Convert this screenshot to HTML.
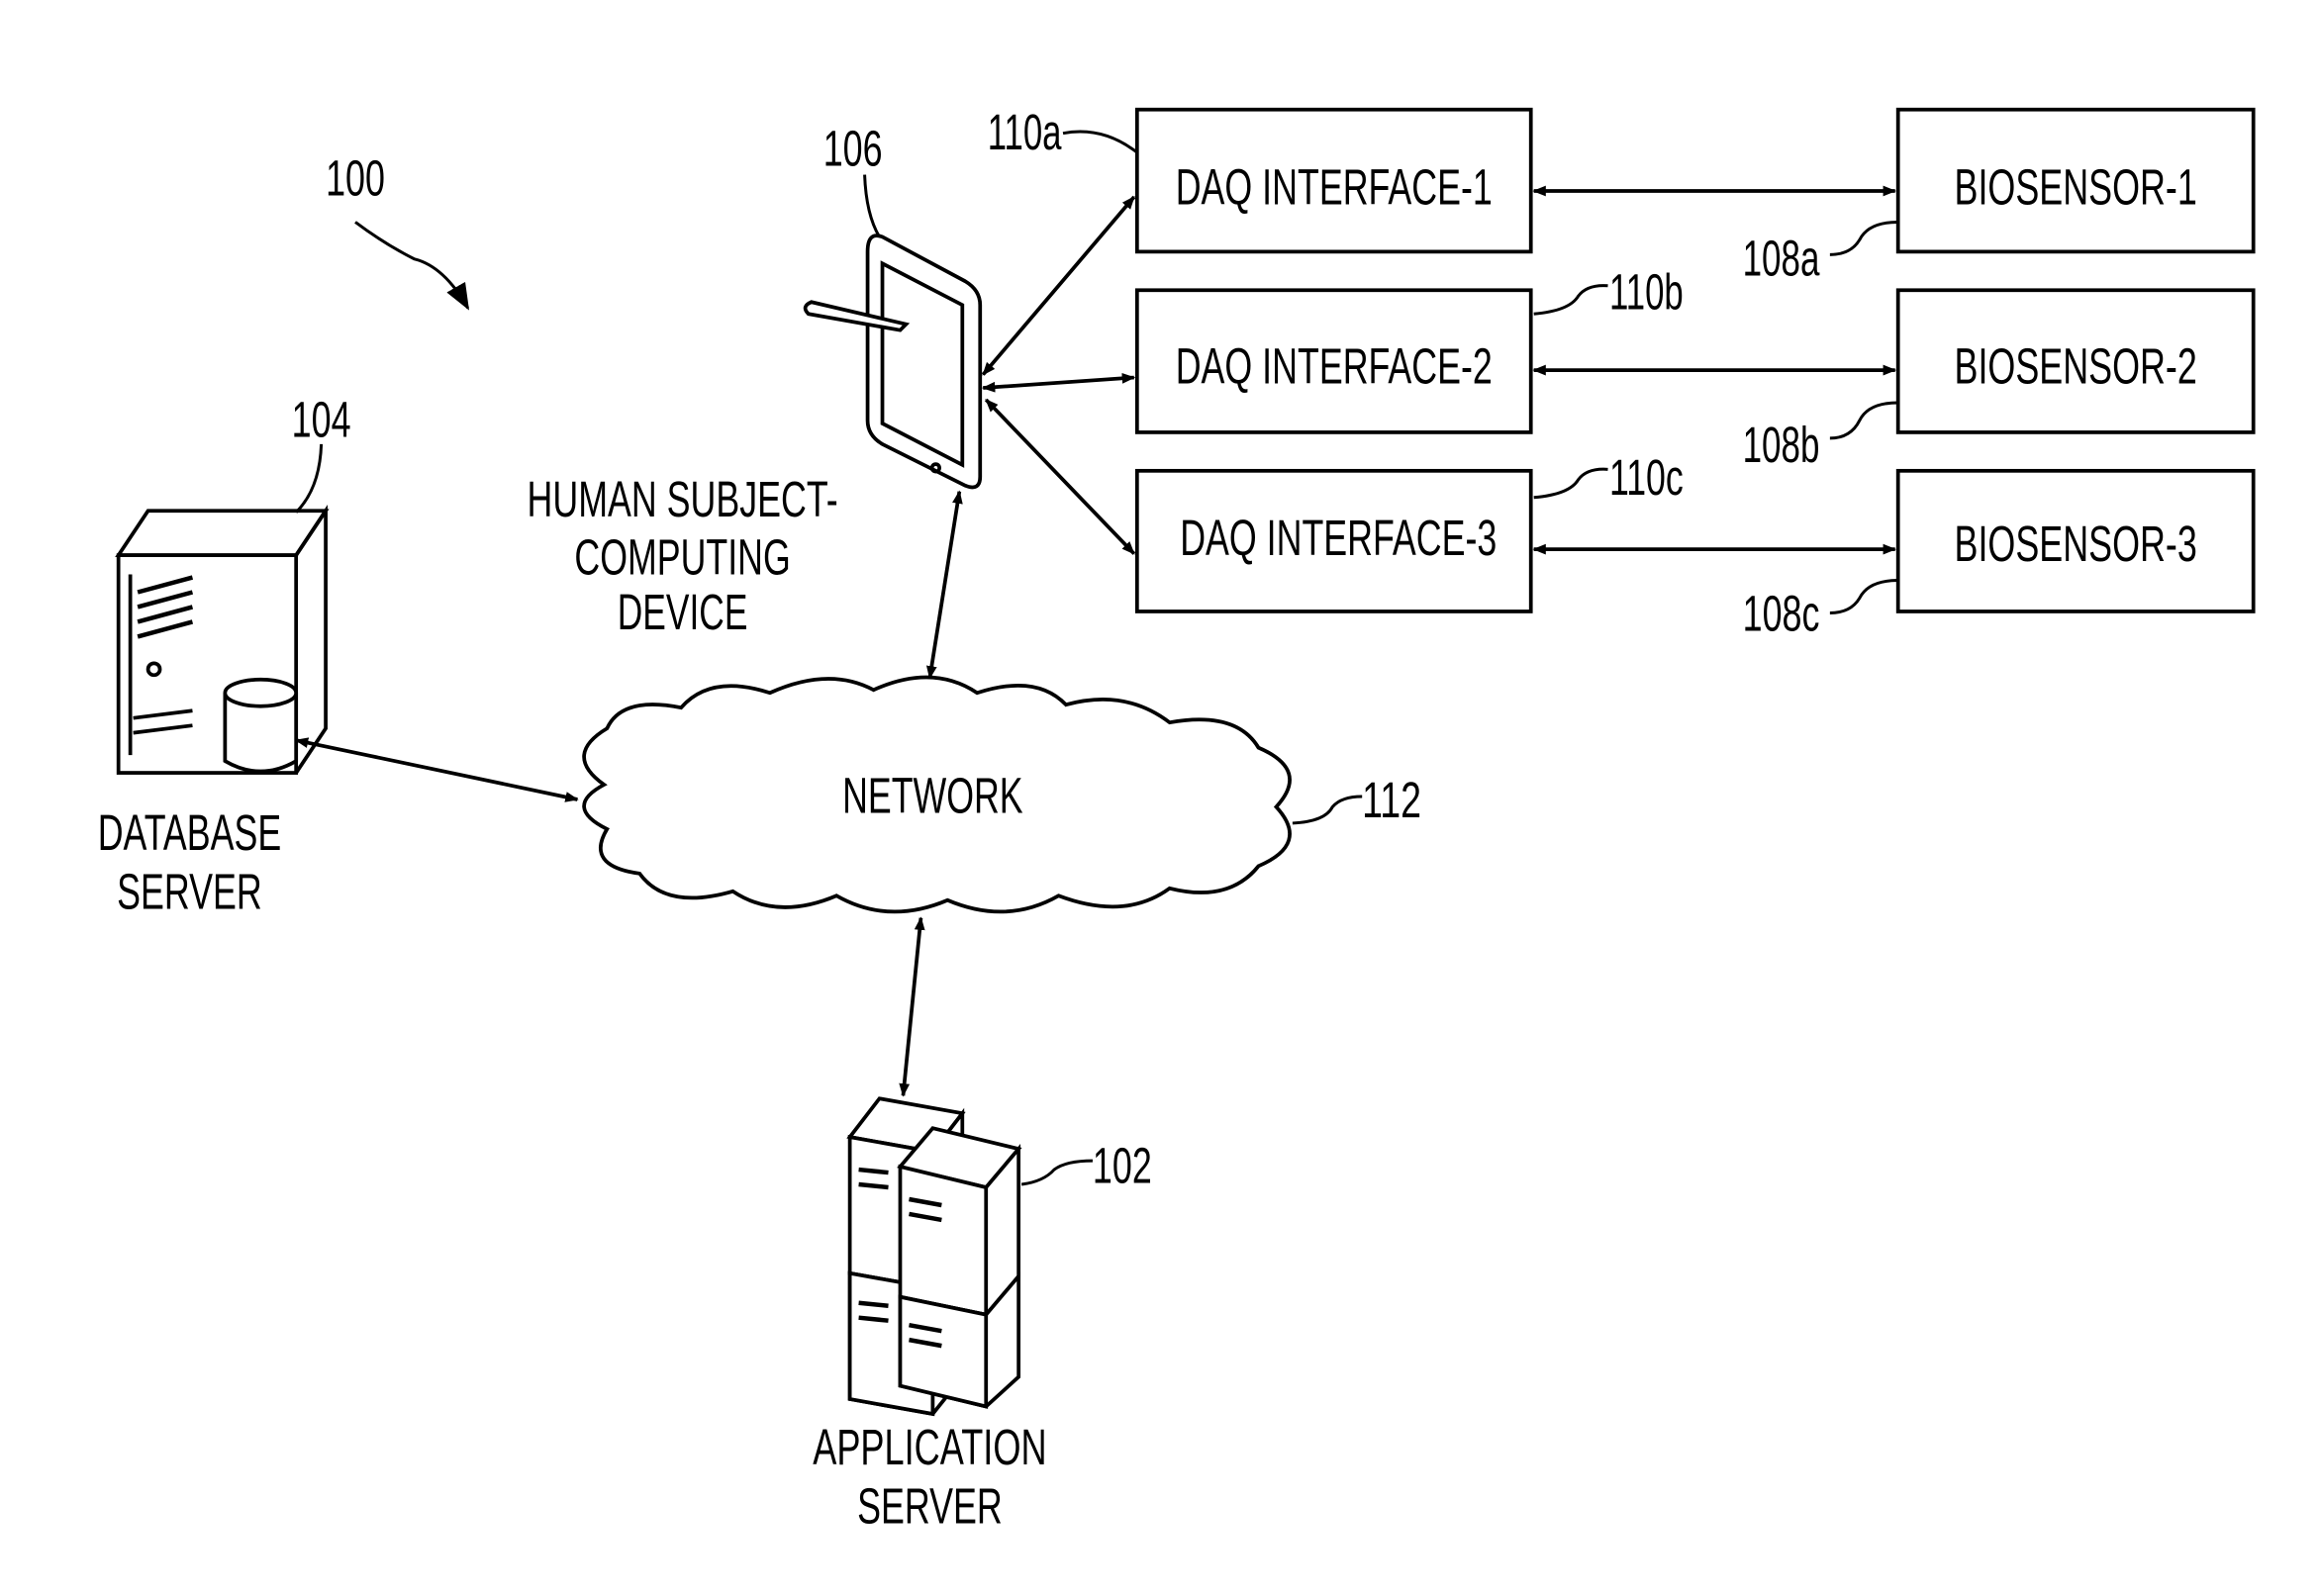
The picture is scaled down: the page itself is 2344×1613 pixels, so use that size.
<!DOCTYPE html>
<html><head><meta charset="utf-8"><style>
html,body{margin:0;padding:0;background:#fff;}
svg{display:block;}
text{font-family:"Liberation Sans Narrow","Liberation Sans",sans-serif;font-size:34px;fill:#000;}
</style></head><body>
<svg width="2344" height="1613" viewBox="0 0 1567 1078" preserveAspectRatio="none" xmlns="http://www.w3.org/2000/svg">
<defs>
<marker id="a" viewBox="0 0 10 10" refX="9" refY="5" markerWidth="9" markerHeight="9" orient="auto-start-reverse" markerUnits="userSpaceOnUse"><path d="M0,1 L10,5 L0,9 z" fill="#000"/></marker>
<marker id="b" viewBox="0 0 10 10" refX="9" refY="5" markerWidth="18" markerHeight="18" orient="auto" markerUnits="userSpaceOnUse"><path d="M0,1 L10,5 L0,9 z" fill="#000"/></marker>
</defs>
<g fill="none" stroke="#000" stroke-width="2.5">
<rect x="768" y="74" width="266" height="96"/>
<rect x="768" y="196" width="266" height="96"/>
<rect x="768" y="318" width="266" height="95"/>
<rect x="1282" y="74" width="240" height="96"/>
<rect x="1282" y="196" width="240" height="96"/>
<rect x="1282" y="318" width="240" height="95"/>
<line x1="1036" y1="129" x2="1280" y2="129" marker-start="url(#a)" marker-end="url(#a)"/>
<line x1="1036" y1="250" x2="1280" y2="250" marker-start="url(#a)" marker-end="url(#a)"/>
<line x1="1036" y1="371" x2="1280" y2="371" marker-start="url(#a)" marker-end="url(#a)"/>
<line x1="664" y1="253" x2="766" y2="133" marker-start="url(#a)" marker-end="url(#a)"/>
<line x1="664" y1="262" x2="766" y2="255" marker-start="url(#a)" marker-end="url(#a)"/>
<line x1="666" y1="270" x2="766" y2="374" marker-start="url(#a)" marker-end="url(#a)"/>
<line x1="648" y1="332" x2="628" y2="458" marker-start="url(#a)" marker-end="url(#a)"/>
<line x1="200" y1="500" x2="390" y2="540" marker-start="url(#a)" marker-end="url(#a)"/>
<line x1="622" y1="620" x2="610" y2="740" marker-start="url(#a)" marker-end="url(#a)"/>
<path d="M596,160 L652,190 Q662,196 662,206 L662,322 Q662,332 652,328 L596,300 Q586,294 586,284 L586,170 Q586,156 596,160 Z"/>
<path d="M596,178 L650,206 L650,314 L596,286 Z"/>
<circle cx="632" cy="316" r="2.5"/>
<path d="M548,204 L612,219 L608,223 L546,212 Q541,207 548,204 Z" fill="#fff"/>
<path d="M408,530 Q380,510 410,492 Q420,470 460,478 Q480,455 520,468 Q560,450 590,466 Q630,448 660,468 Q700,455 720,476 Q760,465 790,488 Q835,480 850,505 Q885,520 862,545 Q885,570 850,585 Q830,610 790,600 Q760,622 715,605 Q680,625 640,608 Q600,625 565,605 Q525,622 495,602 Q450,615 432,590 Q395,585 410,560 Q380,545 408,530 Z"/>
<path d="M80,375 L100,345 L220,345 L200,375 Z"/>
<path d="M200,375 L220,345 L220,492 L200,522"/>
<rect x="80" y="375" width="120" height="147"/>
<line x1="88" y1="388" x2="88" y2="510"/>
<path d="M93,400 L130,390 M93,410 L130,400 M93,420 L130,410 M93,430 L130,420" stroke-width="3"/>
<circle cx="104" cy="452" r="4"/>
<line x1="90" y1="485" x2="130" y2="480"/><line x1="90" y1="495" x2="130" y2="490"/>
<path d="M152,468 L152,514 Q176,528 200,514 L200,468" fill="#fff"/>
<ellipse cx="176" cy="468" rx="24" ry="9" fill="#fff"/>
<g fill="#fff">
<path d="M574,768 L594,742 L650,752 L630,778 Z"/><path d="M630,778 L650,752 L650,845 L630,870"/><path d="M574,768 L630,778 L630,870 L574,860 Z"/>
<path d="M574,860 L630,870 L650,845 L650,930 L630,955 L574,945 Z"/><path d="M574,860 L630,870 L630,955 L574,945 Z"/>
<path d="M608,788 L630,762 L688,776 L666,802 Z"/><path d="M666,802 L688,776 L688,862 L666,888"/><path d="M608,788 L666,802 L666,888 L608,876 Z"/>
<path d="M608,876 L666,888 L688,862 L688,930 L666,950 L608,936 Z"/><path d="M608,876 L666,888 L666,950 L608,936 Z"/>
</g>
<path d="M580,790 L600,792 M580,800 L600,802 M614,810 L636,814 M614,820 L636,824 M580,880 L600,882 M580,890 L600,892 M614,895 L636,899 M614,905 L636,909" stroke-width="3"/>
<path d="M240,150 Q260,165 280,175 Q300,180 316,208" marker-end="url(#b)" stroke-width="2"/>
<path d="M217,300 Q216,330 200,346" stroke-width="2"/>
<path d="M584,118 Q585,145 594,160" stroke-width="2"/>
<path d="M718,90 Q745,85 768,103" stroke-width="2"/>
<path d="M1036,212 Q1060,210 1066,200 Q1072,192 1086,193" stroke-width="2"/>
<path d="M1036,336 Q1060,334 1066,324 Q1072,316 1086,317" stroke-width="2"/>
<path d="M1282,150 Q1262,150 1256,162 Q1250,172 1236,172" stroke-width="2"/>
<path d="M1282,272 Q1262,272 1256,284 Q1250,296 1236,296" stroke-width="2"/>
<path d="M1282,392 Q1262,392 1256,404 Q1250,414 1236,414" stroke-width="2"/>
<path d="M873,556 Q895,555 900,545 Q906,538 920,538" stroke-width="2"/>
<path d="M690,800 Q705,798 712,790 Q720,784 738,784" stroke-width="2"/>
</g>
<g text-anchor="middle">
<text x="901" y="138" textLength="214" lengthAdjust="spacingAndGlyphs">DAQ INTERFACE-1</text>
<text x="901" y="259" textLength="214" lengthAdjust="spacingAndGlyphs">DAQ INTERFACE-2</text>
<text x="904" y="375" textLength="214" lengthAdjust="spacingAndGlyphs">DAQ INTERFACE-3</text>
<text x="1402" y="138" textLength="164" lengthAdjust="spacingAndGlyphs">BIOSENSOR-1</text>
<text x="1402" y="259" textLength="164" lengthAdjust="spacingAndGlyphs">BIOSENSOR-2</text>
<text x="1402" y="379" textLength="164" lengthAdjust="spacingAndGlyphs">BIOSENSOR-3</text>
<text x="630" y="549" textLength="122" lengthAdjust="spacingAndGlyphs">NETWORK</text>
<text x="461" y="349" textLength="210" lengthAdjust="spacingAndGlyphs">HUMAN SUBJECT-</text>
<text x="461" y="388" textLength="146" lengthAdjust="spacingAndGlyphs">COMPUTING</text>
<text x="461" y="425" textLength="88" lengthAdjust="spacingAndGlyphs">DEVICE</text>
<text x="128" y="574" textLength="124" lengthAdjust="spacingAndGlyphs">DATABASE</text>
<text x="128" y="614" textLength="98" lengthAdjust="spacingAndGlyphs">SERVER</text>
<text x="628" y="989" textLength="158" lengthAdjust="spacingAndGlyphs">APPLICATION</text>
<text x="628" y="1029" textLength="98" lengthAdjust="spacingAndGlyphs">SERVER</text>
</g>
<g text-anchor="middle" style="font-size:32px">
<text x="240" y="132" textLength="40" lengthAdjust="spacingAndGlyphs">100</text>
<text x="217" y="295" textLength="40" lengthAdjust="spacingAndGlyphs">104</text>
<text x="576" y="112" textLength="40" lengthAdjust="spacingAndGlyphs">106</text>
<text x="692" y="101" textLength="50" lengthAdjust="spacingAndGlyphs">110a</text>
<text x="1112" y="209" textLength="50" lengthAdjust="spacingAndGlyphs">110b</text>
<text x="1112" y="334" textLength="50" lengthAdjust="spacingAndGlyphs">110c</text>
<text x="1203" y="186" textLength="52" lengthAdjust="spacingAndGlyphs">108a</text>
<text x="1203" y="312" textLength="52" lengthAdjust="spacingAndGlyphs">108b</text>
<text x="1203" y="426" textLength="52" lengthAdjust="spacingAndGlyphs">108c</text>
<text x="940" y="552" textLength="40" lengthAdjust="spacingAndGlyphs">112</text>
<text x="758" y="799" textLength="40" lengthAdjust="spacingAndGlyphs">102</text>
</g>
</svg>
</body></html>
